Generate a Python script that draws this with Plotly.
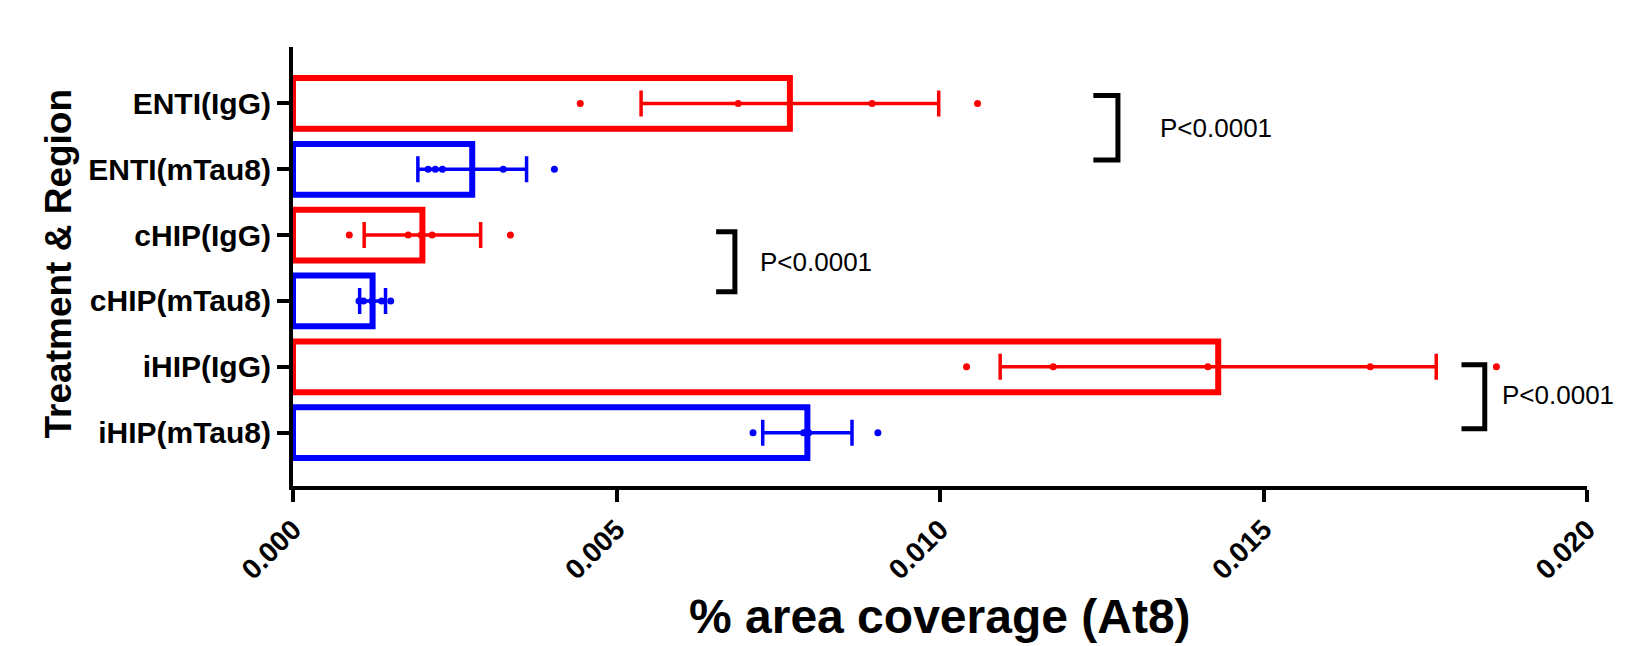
import plotly.graph_objects as go

# ---- data ----
categories = ["ENTI(IgG)", "ENTI(mTau8)", "cHIP(IgG)", "cHIP(mTau8)", "iHIP(IgG)", "iHIP(mTau8)"]
groups = ["IgG", "mTau8", "IgG", "mTau8", "IgG", "mTau8"]
means = [0.00768, 0.00277, 0.00200, 0.00123, 0.01430, 0.00795]
errors = [0.00230, 0.00084, 0.00090, 0.00020, 0.00337, 0.00069]
points_enti_igg = [0.00444, 0.00688, 0.00895, 0.01058]
points_enti_mtau8 = [0.00209, 0.00220, 0.00231, 0.00325, 0.00404]
points_chip_igg = [0.00087, 0.00178, 0.00198, 0.00215, 0.00336]
points_chip_mtau8 = [0.00102, 0.00109, 0.00122, 0.00137, 0.00151]
points_ihip_igg = [0.01041, 0.01175, 0.01414, 0.01665, 0.01860]
points_ihip_mtau8 = [0.00711, 0.00789, 0.00793, 0.00797, 0.00904]
all_points = [points_enti_igg, points_enti_mtau8, points_chip_igg,
              points_chip_mtau8, points_ihip_igg, points_ihip_mtau8]
p_labels = ["P<0.0001", "P<0.0001", "P<0.0001"]
x_ticks = [0.000, 0.005, 0.010, 0.015, 0.020]

colors = {"IgG": "#FF0000", "mTau8": "#0000FF"}
FONT = "Liberation Sans, Arial, sans-serif"

fig = go.Figure()
for g in ["IgG", "mTau8"]:
    idx = [i for i, gg in enumerate(groups) if gg == g]
    fig.add_trace(go.Bar(
        x=[means[i] for i in idx], y=idx, orientation="h", width=0.77,
        marker=dict(color="rgba(255,255,255,0)", line=dict(color=colors[g], width=6)),
        error_x=dict(type="data", array=[errors[i] for i in idx], color=colors[g],
                     thickness=3.5, width=13),
        showlegend=False, hoverinfo="x+y"))

for i, pts in enumerate(all_points):
    fig.add_trace(go.Scatter(
        x=pts, y=[i] * len(pts), mode="markers",
        marker=dict(color=colors[groups[i]], size=7),
        showlegend=False, cliponaxis=False))

# significance brackets: (x_left, x_right, y_top, y_bottom, text_x, text_y)
brackets = [
    (0.01237, 0.01275, -0.12, 0.86, 0.01337, 0.38),
    (0.00654, 0.00683, 1.95, 2.86, 0.00719, 2.41),
    (0.01806, 0.01842, 3.97, 4.94, 0.01866, 4.43),
]
for (xl, xr, yt, yb, tx, ty), lab in zip(brackets, p_labels):
    fig.add_shape(type="path", xref="x", yref="y",
                  path=f"M {xl},{yt} L {xr},{yt} L {xr},{yb} L {xl},{yb}",
                  line=dict(color="black", width=5))
    fig.add_annotation(x=tx, y=ty, xref="x", yref="y", text=lab, showarrow=False,
                       xanchor="left", yanchor="middle",
                       font=dict(family=FONT, size=26, color="black"))

fig.add_annotation(x=-0.1816, y=0.507, xref="paper", yref="paper",
                   text="Treatment & Region", textangle=-90, showarrow=False,
                   xanchor="center", yanchor="middle",
                   font=dict(family=FONT, size=37, color="black", weight="bold"))
fig.add_annotation(x=0.5, y=-0.298, xref="paper", yref="paper",
                   text="% area coverage (At8)", showarrow=False,
                   xanchor="center", yanchor="middle",
                   font=dict(family=FONT, size=48, color="black", weight="bold"))

fig.update_layout(
    width=1643, height=638,
    margin=dict(l=285, r=64, t=39, b=160),
    paper_bgcolor="white", plot_bgcolor="white",
    barmode="overlay",
    xaxis=dict(range=[0, 0.02], tickvals=x_ticks, tickformat=".3f", tickangle=-45,
               showgrid=False, zeroline=False, showline=True, linecolor="black",
               linewidth=4, ticks="outside", ticklen=12, tickwidth=4, tickcolor="black",
               tickfont=dict(family=FONT, size=28, color="black", weight="bold")),
    yaxis=dict(range=[5.81, -0.857], tickvals=list(range(len(categories))),
               ticktext=categories, showgrid=False, zeroline=False, showline=True,
               linecolor="black", linewidth=4, ticks="outside", ticklen=12,
               tickwidth=4, tickcolor="black",
               tickfont=dict(family=FONT, size=30, color="black", weight="bold")),
)

fig.write_html("out.html")
